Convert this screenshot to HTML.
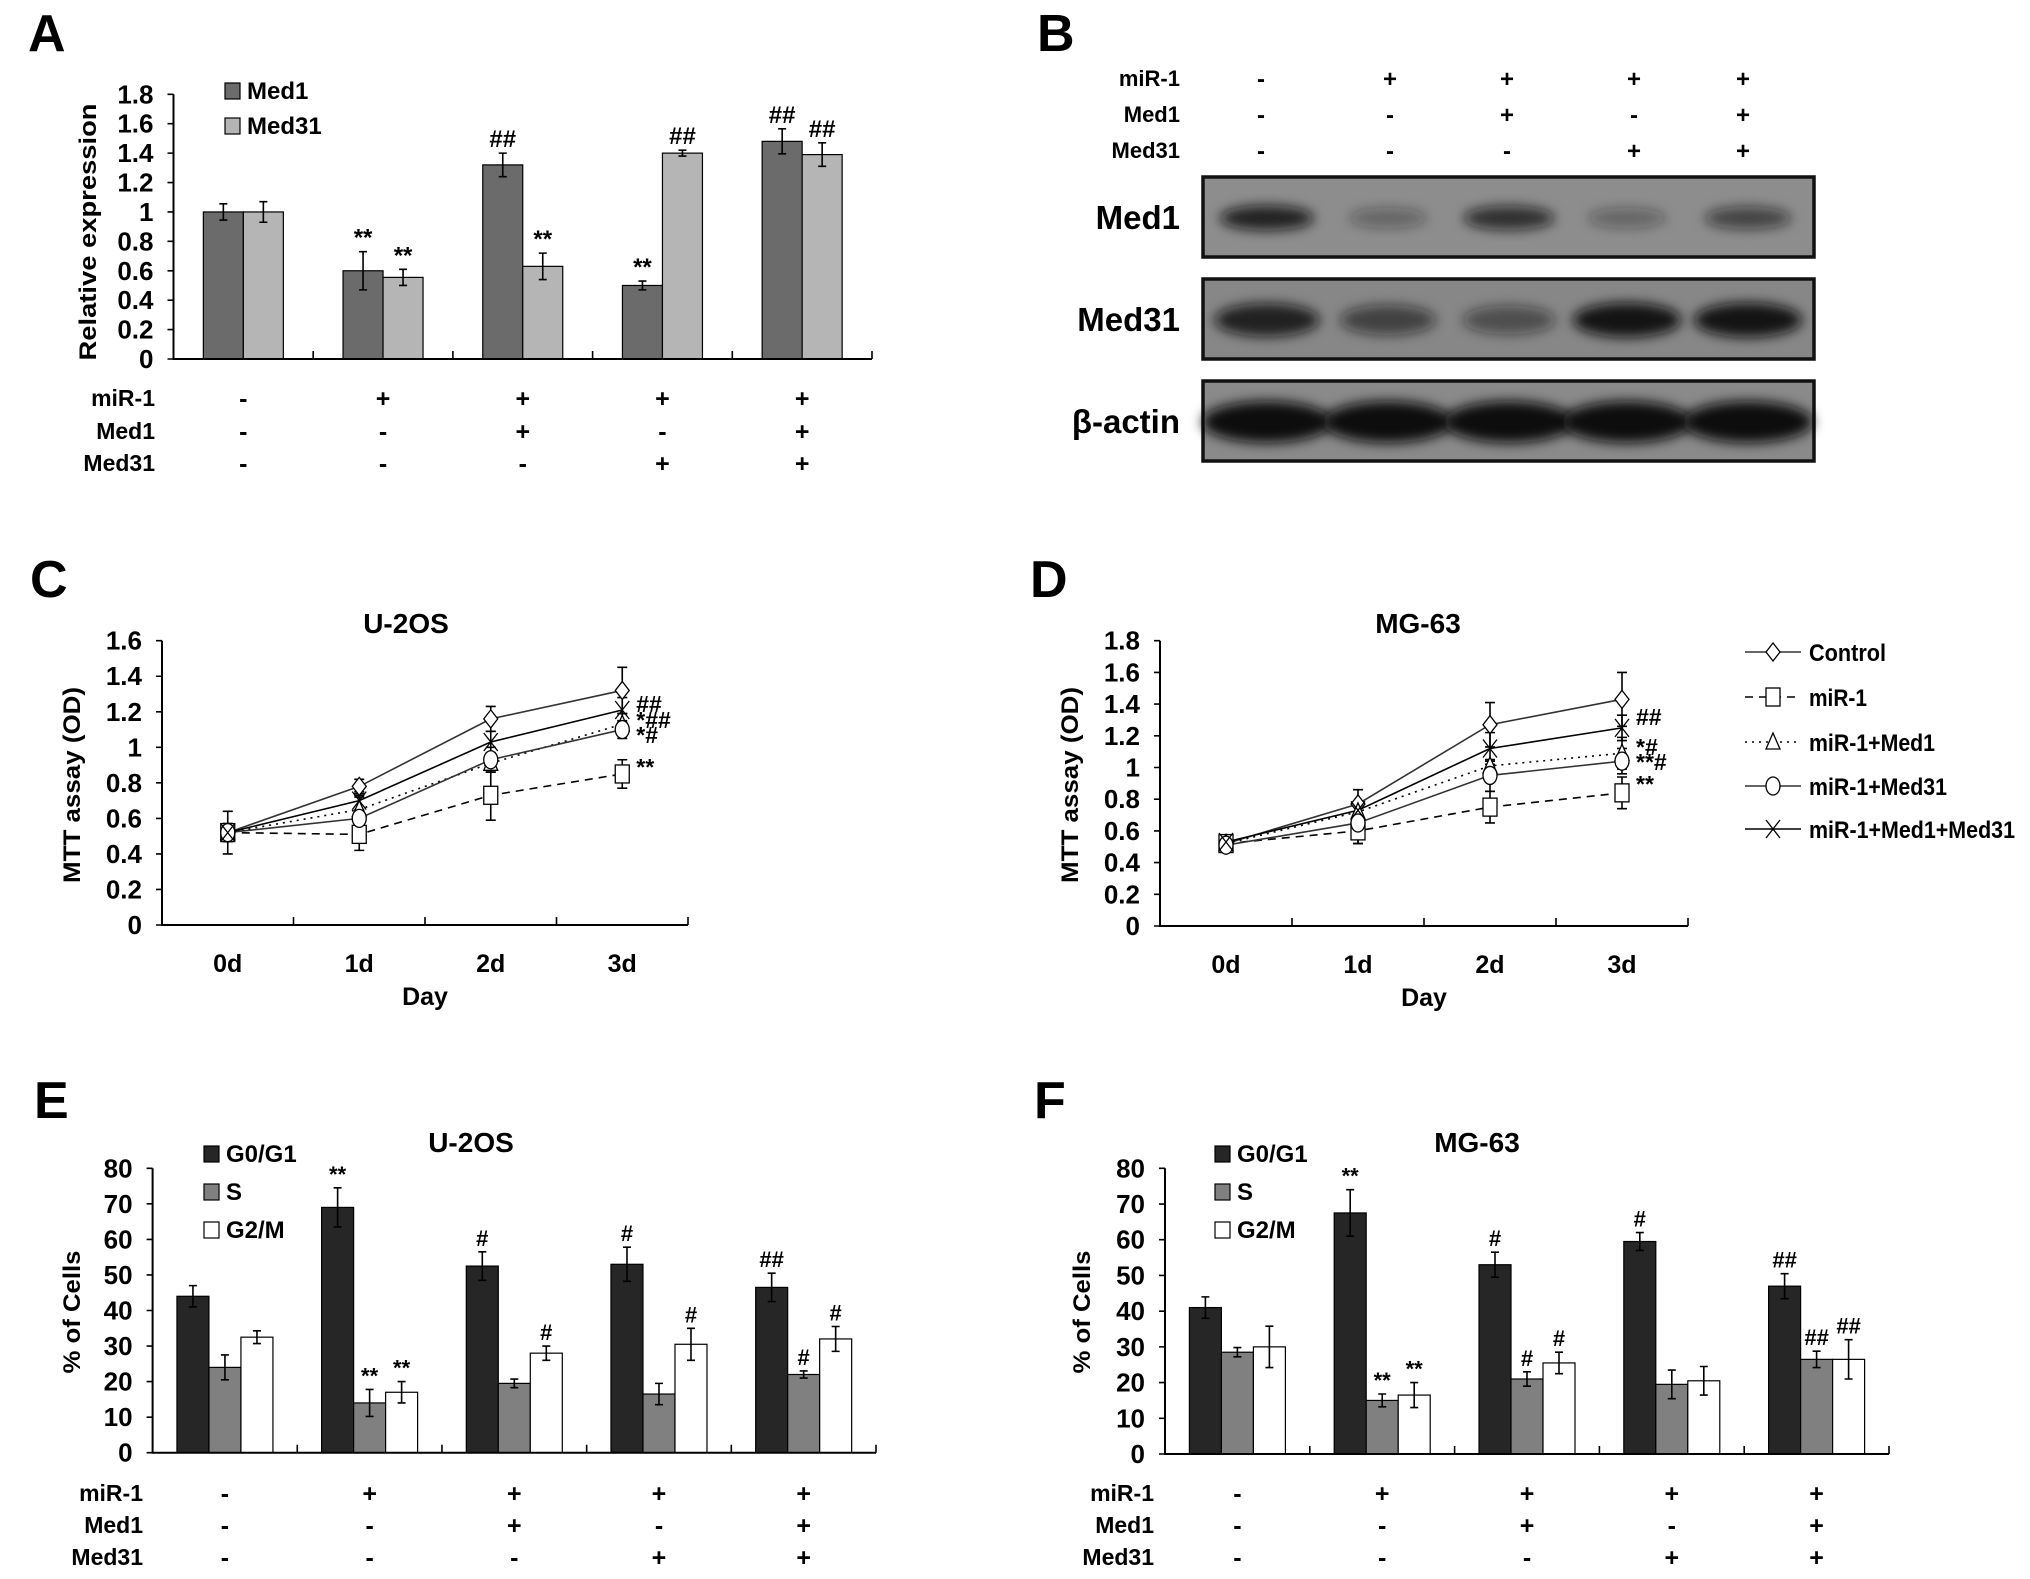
<!DOCTYPE html>
<html><head><meta charset="utf-8">
<style>
html,body{margin:0;padding:0;background:#fff;}
svg{display:block;}
text{font-family:"Liberation Sans Narrow","Liberation Sans",sans-serif;font-weight:bold;fill:#000;}
.wide{font-family:"Liberation Sans",sans-serif;}
</style></head>
<body>
<svg id="fig" xmlns="http://www.w3.org/2000/svg" width="2030" height="1579" viewBox="0 0 2030 1579">
<defs>
<filter id="blur" x="-50%" y="-50%" width="200%" height="200%"><feGaussianBlur stdDeviation="6"/></filter>
</defs>
</svg>
<script>
// ---------- DATA ----------
const groupsLabels = ['miR-1','Med1','Med31'];
const condMiR1  = ['-','+','+','+','+'];
const condMed1  = ['-','-','+','-','+'];
const condMed31 = ['-','-','-','+','+'];

// Panel A
const aTicks = ['0','0.2','0.4','0.6','0.8','1','1.2','1.4','1.6','1.8'];
const aMed1 = [1.0,0.60,1.32,0.50,1.48];
const aMed1Err = [0.055,0.13,0.08,0.03,0.085];
const aMed31 = [1.0,0.555,0.63,1.40,1.39];
const aMed31Err = [0.07,0.055,0.09,0.02,0.08];
const aMed1Ann = ['','**','##','**','##'];
const aMed31Ann = ['','**','**','##','##'];

// Panel B blot band intensities (0-1) per lane
const bMed1Band = [0.85,0.35,0.75,0.35,0.6];
const bMed31Band = [0.85,0.6,0.5,0.95,0.95];
const bActinBand = [1,1,1,1,1];

// Panel C (U-2OS MTT)
const days = ['0d','1d','2d','3d'];
const cTicks = ['0','0.2','0.4','0.6','0.8','1','1.2','1.4','1.6'];
const cControl = [0.52,0.78,1.16,1.32];
const cControlErr = [0.05,0.04,0.07,0.13];
const cMiR = [0.52,0.51,0.73,0.85];
const cMiRErr = [0.04,0.09,0.14,0.08];
const cMed1 = [0.52,0.65,0.91,1.13];
const cMed1Err = [0.05,0.08,0.05,0.06];
const cMed31 = [0.52,0.60,0.93,1.10];
const cMed31Err = [0.05,0.12,0.07,0.05];
const cCombo = [0.52,0.70,1.03,1.21];
const cComboErr = [0.12,0.05,0.06,0.07];
const cAnn = ['##','*##','*#','**'];

// Panel D (MG-63 MTT)
const dTicks = ['0','0.2','0.4','0.6','0.8','1','1.2','1.4','1.6','1.8'];
const dControl = [0.52,0.77,1.27,1.43];
const dControlErr = [0.04,0.09,0.14,0.17];
const dMiR = [0.52,0.60,0.75,0.84];
const dMiRErr = [0.03,0.08,0.10,0.10];
const dMed1 = [0.52,0.72,1.01,1.09];
const dMed1Err = [0.03,0.05,0.03,0.10];
const dMed31 = [0.51,0.65,0.95,1.04];
const dMed31Err = [0.04,0.13,0.10,0.08];
const dCombo = [0.53,0.73,1.12,1.25];
const dComboErr = [0.04,0.05,0.10,0.08];
const dAnn = ['##','*#','**#','**'];
const legendNames = ['Control','miR-1','miR-1+Med1','miR-1+Med31','miR-1+Med1+Med31'];

// Panel E (U-2OS cell cycle)
const pctTicks = ['0','10','20','30','40','50','60','70','80'];
const eG0 = [44,69,52.5,53,46.5];
const eG0Err = [3,5.5,4,4.8,4];
const eS = [24,14,19.5,16.5,22];
const eSErr = [3.5,3.8,1.2,3,1];
const eG2 = [32.5,17,28,30.5,32];
const eG2Err = [1.8,3,2,4.5,3.5];
const eG0Ann = ['','**','#','#','##'];
const eSAnn = ['','**','','','#'];
const eG2Ann = ['','**','#','#','#'];

// Panel F (MG-63 cell cycle)
const fG0 = [41,67.5,53,59.5,47];
const fG0Err = [3,6.5,3.5,2.5,3.5];
const fS = [28.5,15,21,19.5,26.5];
const fSErr = [1.3,1.8,2,4,2.3];
const fG2 = [30,16.5,25.5,20.5,26.5];
const fG2Err = [5.8,3.5,3,4,5.5];
const fG0Ann = ['','**','#','#','##'];
const fSAnn = ['','**','#','','##'];
const fG2Ann = ['','**','#','','##'];

// ---------- HELPERS ----------
const NS='http://www.w3.org/2000/svg';
const svg=document.getElementById('fig');
function mk(tag,attrs,parent){const e=document.createElementNS(NS,tag);for(const k in attrs)e.setAttribute(k,attrs[k]);(parent||svg).appendChild(e);return e;}
function txt(x,y,s,size,anchor,cls,parent){const t=mk('text',{x:x,y:y,'font-size':size,'text-anchor':anchor||'start'},parent);if(cls)t.setAttribute('class',cls);t.textContent=s;return t;}
function letter(x,y,s){const t=txt(x,y,s,52,'start','wide');

}
function errbar(g,x,yt,yb,cap){
 const l=mk('path',{d:`M${x},${yt}V${yb}M${x-cap},${yt}H${x+cap}M${x-cap},${yb}H${x+cap}`,stroke:'#000','stroke-width':1.6,fill:'none'},g);
 
 
}
function ylabel(x,y,s,len,g){const t=mk('text',{x:0,y:0,'font-size':24,'text-anchor':'middle',transform:`translate(${x},${y}) rotate(-90)`,textLength:len,lengthAdjust:'spacingAndGlyphs'},g);t.setAttribute('class','wide');t.textContent=s;

}
function condTable(g,labelRight,centers,rows,size){
 const rowsData=[condMiR1,condMed1,condMed31];
 rows.forEach((ry,r)=>{const l=txt(labelRight,ry+8,groupsLabels[r],size,'end',null,g);
 
 
 rowsData[r].forEach((v,i)=>{const t=txt(centers[i],ry+9,v,size+2,'middle','wide',g);
 
 });});
}

// ---------- BAR CHART ----------
function barChart(o){
 const g=mk('g',{});
 
 
 const nT=o.ticks.length-1;
 const y=v=>o.y0-(v/o.ymax)*(o.y0-o.yTop);
 const n=o.series.length, gw=(o.x1-o.ox)/o.series[0].length;
 const centers=[];
 o.series[0].forEach((_,i)=>centers.push(o.ox+gw*(i+0.5)));
 o.series.forEach((s,k)=>{
  s.forEach((v,i)=>{
   const x=centers[i]-n*o.bw/2+k*o.bw;
   const r=mk('rect',{x:x,y:y(v),width:o.bw,height:o.y0-y(v),fill:o.colors[k],stroke:'#000','stroke-width':1.2},g);
   
   
   const e=o.errs[k][i];
   errbar(g,x+o.bw/2,y(v+e),y(v-e),4);
   const a=o.anns[k][i];
   if(a){const t=txt(x+o.bw/2,y(v+e)-6,a,o.annSize,'middle','wide',g);
   
   }
  });
 });
 const ax=mk('path',{d:`M${o.ox},${o.yTop}V${o.y0}H${o.x1}`,stroke:'#000','stroke-width':2,fill:'none'},g);
 
 
 let d='';
 o.ticks.forEach((lab,i)=>{const yy=y(i*o.ymax/nT);d+=`M${o.ox-6},${yy}H${o.ox}`;
  const t=txt(o.ox-20,yy+9,lab,26,'end',null,g);
  
  });
 for(let i=1;i<=o.series[0].length;i++){const xx=o.ox+gw*i;d+=`M${xx},${o.y0}V${o.y0-8}`;}
 const tk=mk('path',{d:d,stroke:'#000','stroke-width':1.6,fill:'none'},g);
 
 
 return {g,centers};
}

// ---------- LINE CHART ----------
function marker(g,type,x,y){
 let e;
 if(type==='diamond')e=mk('path',{d:`M${x},${y-9}L${x+7},${y}L${x},${y+9}L${x-7},${y}Z`,fill:'#fff',stroke:'#000','stroke-width':1.3},g);
 else if(type==='square')e=mk('rect',{x:x-7,y:y-9,width:14,height:18,fill:'#fff',stroke:'#000','stroke-width':1.3},g);
 else if(type==='triangle')e=mk('path',{d:`M${x},${y-9}L${x+7},${y+7}L${x-7},${y+7}Z`,fill:'#fff',stroke:'#000','stroke-width':1.3},g);
 else if(type==='circle')e=mk('ellipse',{cx:x,cy:y,rx:7,ry:9,fill:'#fff',stroke:'#000','stroke-width':1.3},g);
 else e=mk('path',{d:`M${x-7},${y-9}L${x+7},${y+9}M${x+7},${y-9}L${x-7},${y+9}`,stroke:'#000','stroke-width':1.3,fill:'none'},g);
 
 
}
const lineStyles=[{dash:'',m:'diamond',c:'#333'},{dash:'8,6',m:'square',c:'#000'},{dash:'2,5',m:'triangle',c:'#000'},{dash:'',m:'circle',c:'#333'},{dash:'',m:'x',c:'#000'}];
function lineChart(o){
 const g=mk('g',{});
 
 
 const nT=o.ticks.length-1;
 const y=v=>o.y0-(v/o.ymax)*(o.y0-o.yTop);
 const cw=(o.x1-o.ox)/days.length;
 const xs=days.map((_,i)=>o.ox+cw*(i+0.5));
 const ax=mk('path',{d:`M${o.ox},${o.yTop}V${o.y0}H${o.x1}`,stroke:'#000','stroke-width':2,fill:'none'},g);
 
 
 let d='';
 o.ticks.forEach((lab,i)=>{const yy=y(i*o.ymax/nT);d+=`M${o.ox-6},${yy}H${o.ox}`;
  const t=txt(o.ox-20,yy+9,lab,26,'end',null,g);
  
  });
 for(let i=1;i<=days.length;i++){const xx=o.ox+cw*i;d+=`M${xx},${o.y0}V${o.y0-8}`;}
 const tk=mk('path',{d:d,stroke:'#000','stroke-width':1.6,fill:'none'},g);
 
 
 days.forEach((dd,i)=>{const t=txt(xs[i],o.y0+47,dd,25,'middle',null,g);
 
 });
 const dl=txt((o.ox+o.x1)/2,o.y0+80,'Day',25,'middle',null,g);
 
 
 o.series.forEach((s,k)=>{
  const st=lineStyles[k];
  const p=mk('polyline',{points:s.map((v,i)=>xs[i]+','+y(v)).join(' '),fill:'none',stroke:st.c,'stroke-width':1.6,'stroke-dasharray':st.dash},g);
  
  
  s.forEach((v,i)=>{const e=o.errs[k][i];errbar(g,xs[i],y(v+e),y(v-e),5);});
 });
 o.series.forEach((s,k)=>{s.forEach((v,i)=>marker(g,lineStyles[k].m,xs[i],y(v)));});
 o.anns.forEach((a,i)=>{const t=txt(xs[3]+14,o.annY[i],a,23,'start','wide',g);
 
 });
}

// ---------- PANEL A ----------
letter(28,51,'A');
const A=barChart({name:'panel-a-chart',ox:173.5,x1:872,y0:359,yTop:94.3,ymax:1.8,ticks:aTicks,bw:40,
 series:[aMed1,aMed31],errs:[aMed1Err,aMed31Err],anns:[aMed1Ann,aMed31Ann],colors:['#6b6b6b','#b5b5b5'],snames:['med1','med31'],annSize:24});
ylabel(96,232,'Relative expression',257,A.g);
[['Med1','#6b6b6b',83],['Med31','#b5b5b5',118]].forEach(([n,c,yy])=>{
 const r=mk('rect',{x:225,y:yy,width:15,height:16,fill:c,stroke:'#000','stroke-width':1.2},A.g);
 
 
 const t=txt(247,yy+16,n,24,'start',null,A.g);
 
 
});
condTable(A.g,155,A.centers,[398,431,463],23);

// ---------- PANEL B ----------
letter(1037,51,'B');
(function(){
 const g=mk('g',{});
 
 
 condTable(g,1180,[1261,1390,1507,1634,1743],[78,114,150],22);
 const lanes=[1267,1388,1509,1627,1748];
 const boxes=[['Med1',177,bMed1Band,'#8d8d8d',90,24],['Med31',279,bMed31Band,'#878787',100,32],['β-actin',381,bActinBand,'#8a8a8a',118,38]];
 boxes.forEach(([n,top,band,bg,bw,bh])=>{
  const r=mk('rect',{x:1203,y:top,width:611,height:80,fill:bg,stroke:'#111','stroke-width':3.5},g);
  
  
  band.forEach((v,i)=>{
   const w=bw*(0.75+0.35*v);
   const e=mk('ellipse',{cx:lanes[i],cy:top+41,rx:w/2,ry:bh/2*(0.7+0.4*v),fill:'#111','fill-opacity':v,filter:'url(#blur)'},g);
   
   
  });
  const t=txt(1180,top+52,n,33,'end',null,g);
  
  
 });
})();

// ---------- PANEL C ----------
letter(30,597,'C');
(function(){
 lineChart({name:'panel-c-chart',ox:162,x1:688,y0:925,yTop:640.7,ymax:1.6,ticks:cTicks,
  series:[cControl,cMiR,cMed1,cMed31,cCombo],errs:[cControlErr,cMiRErr,cMed1Err,cMed31Err,cComboErr],
  anns:cAnn,annY:[712,728,743,775]});
 const t=txt(406,633,'U-2OS',28,'middle');
 
 
 ylabel(80,785,'MTT assay (OD)',196);
})();

// ---------- PANEL D ----------
letter(1030,597,'D');
(function(){
 lineChart({name:'panel-d-chart',ox:1160,x1:1688,y0:926,yTop:640.7,ymax:1.8,ticks:dTicks,
  series:[dControl,dMiR,dMed1,dMed31,dCombo],errs:[dControlErr,dMiRErr,dMed1Err,dMed31Err,dComboErr],
  anns:dAnn,annY:[725,755,770,792]});
 const t=txt(1418,633,'MG-63',28,'middle');
 
 
 ylabel(1078,785,'MTT assay (OD)',196);
 const g=mk('g',{});
 
 
 const ly=[652,697,742,786,829];
 const lw=[77,58,126,138,206];
 legendNames.forEach((n,k)=>{
  const st=lineStyles[k];
  const l=mk('line',{x1:1745,y1:ly[k],x2:1801,y2:ly[k],stroke:st.c,'stroke-width':1.6,'stroke-dasharray':st.dash},g);
  
  
  marker(g,st.m,1773,ly[k]);
  const t=txt(1809,ly[k]+9,n,24,'start',null,g);
  t.setAttribute('textLength',lw[k]);
  t.setAttribute('lengthAdjust','spacingAndGlyphs');
  
  
 });
})();

// ---------- PANELS E / F ----------
function cyclePanel(off,name,title,g0,g0e,s,se,g2,g2e,a0,as,a2,ox,x1,y0,titleX,lblX,tabRight){
 const C=barChart({name:name,ox:ox,x1:x1,y0:y0,yTop:1168.3,ymax:80,ticks:pctTicks,bw:32,
  series:[g0,s,g2],errs:[g0e,se,g2e],anns:[a0,as,a2],colors:['#262626','#808080','#ffffff'],snames:['g0g1','s','g2m'],annSize:22});
 const t=txt(titleX,1152,title,28,'middle',null,C.g);
 
 
 ylabel(lblX,1312,'% of Cells',123,C.g);
 [['G0/G1','#262626',1146],['S','#808080',1184],['G2/M','#ffffff',1222]].forEach(([n,c,yy])=>{
  const r=mk('rect',{x:off+204,y:yy,width:15,height:16,fill:c,stroke:'#000','stroke-width':1.2},C.g);
  
  
  const l=txt(off+226,yy+16,n,24,'start',null,C.g);
  
  
 });
 condTable(C.g,tabRight,C.centers,[1493,1525,1557],23);
}
letter(34,1118,'E');
cyclePanel(0,'panel-e-chart','U-2OS',eG0,eG0Err,eS,eSErr,eG2,eG2Err,eG0Ann,eSAnn,eG2Ann,152.6,876,1452.7,471,80,143);
letter(1034,1118,'F');
cyclePanel(1011,'panel-f-chart','MG-63',fG0,fG0Err,fS,fSErr,fG2,fG2Err,fG0Ann,fSAnn,fG2Ann,1165,1889,1454,1477,1090,1154);
</script>
</body></html>
